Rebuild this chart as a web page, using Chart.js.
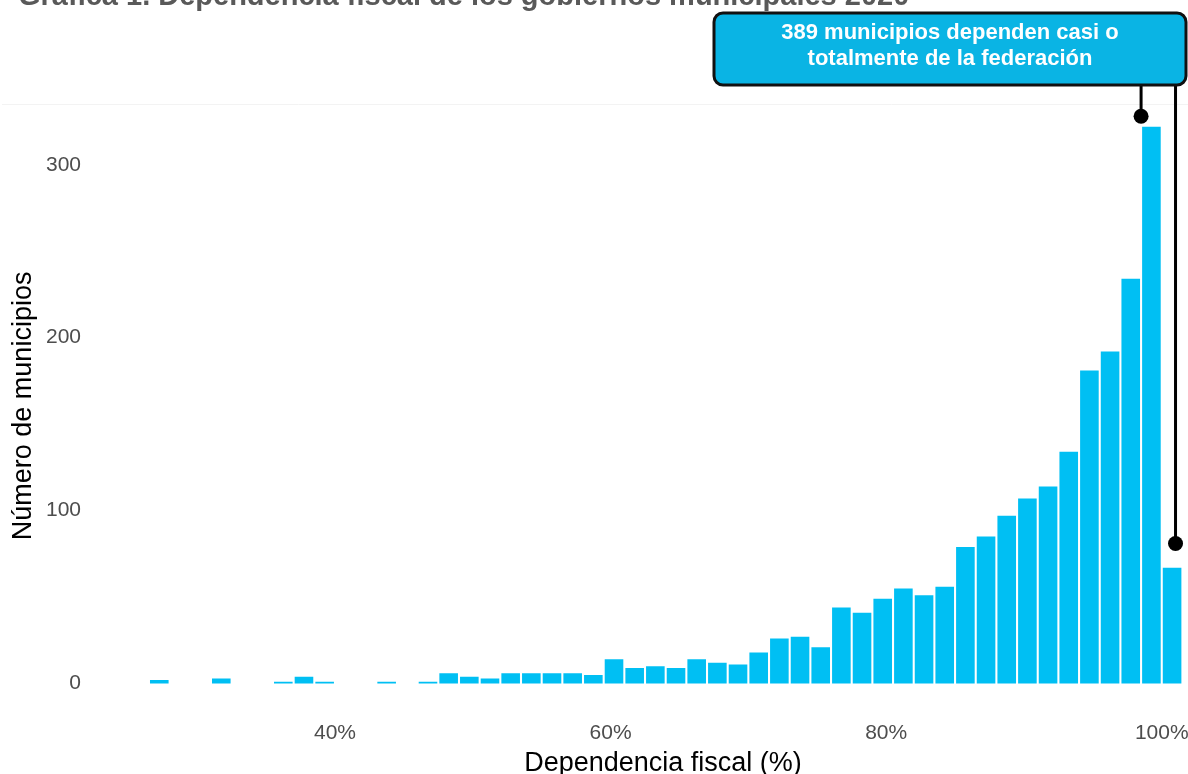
<!DOCTYPE html>
<html>
<head>
<meta charset="utf-8">
<script src="https://cdn.jsdelivr.net/npm/chart.js@4.4.1/dist/chart.umd.min.js"></script>
<style>
  html, body { margin: 0; padding: 0; background: #fff; }
  canvas { display: block; }
</style>
</head>
<body>
<canvas id="histChart" width="1188" height="774"></canvas>
<script>
// histogram bins (left edge, % of income from federal transfers) and municipality counts
const binStart = [26.5, 31, 35.5, 37, 38.5, 43, 46,
  47.5, 49, 50.5, 52, 53.5, 55, 56.5, 58, 59.5, 61, 62.5, 64, 65.5, 67, 68.5, 70,
  71.5, 73, 74.5, 76, 77.5, 79, 80.5, 82, 83.5, 85, 86.5, 88, 89.5, 91, 92.5, 94,
  95.5, 97, 98.5, 100];
const municipios = [2, 3, 1, 4, 1, 1, 1,
  6, 4, 3, 6, 6, 6, 6, 5, 14, 9, 10, 9, 14, 12, 11, 18,
  26, 27, 21, 44, 41, 49, 55, 51, 56, 79, 85, 97, 107, 114, 134, 181,
  192, 234, 322, 67];
const binWidth = 1.5;

const xTicks = [40, 60, 80, 100];
const yTicks = [0, 100, 200, 300];

const titleText = 'Gráfica 1. Dependencia fiscal de los gobiernos municipales 2020';
const calloutLines = ['389 municipios dependen casi o', 'totalmente de la federación'];
// where the two leader lines end: [x in %, y in municipios]
const calloutTargets = [[98.5, 328], [101, 81]];

const barColor = '#00bff3';
const font = '"Liberation Sans", Arial, sans-serif';

const points = binStart.map((b, i) => ({ x: b + binWidth / 2, y: municipios[i] }));

const calloutPlugin = {
  id: 'callout',
  afterDraw(chart) {
    const { ctx, scales: { x, y } } = chart;
    ctx.save();

    // title (runs off the top edge)
    ctx.font = 'bold 29px ' + font;
    ctx.fillStyle = '#595959';
    ctx.textAlign = 'left';
    ctx.textBaseline = 'alphabetic';
    ctx.fillText(titleText, 18, 5);

    // faint panel edge
    ctx.strokeStyle = '#f3f3f3';
    ctx.lineWidth = 1;
    ctx.beginPath();
    ctx.moveTo(2, 104.5);
    ctx.lineTo(1188, 104.5);
    ctx.stroke();

    // leader lines and dots
    ctx.strokeStyle = '#000';
    ctx.fillStyle = '#000';
    ctx.lineWidth = 3;
    calloutTargets.forEach(([vx, vy]) => {
      const px = x.getPixelForValue(vx);
      const py = y.getPixelForValue(vy);
      ctx.beginPath();
      ctx.moveTo(px, 60);
      ctx.lineTo(px, py);
      ctx.stroke();
      ctx.beginPath();
      ctx.arc(px, py, 7.5, 0, Math.PI * 2);
      ctx.fill();
    });

    // label box
    ctx.beginPath();
    ctx.roundRect(714, 13, 472, 72, 9);
    ctx.fillStyle = '#0ab4e4';
    ctx.fill();
    ctx.lineWidth = 3;
    ctx.strokeStyle = '#111';
    ctx.stroke();

    ctx.fillStyle = '#fff';
    ctx.font = 'bold 22px ' + font;
    ctx.textAlign = 'center';
    ctx.textBaseline = 'middle';
    ctx.fillText(calloutLines[0], 950, 33);
    ctx.fillText(calloutLines[1], 950, 59);

    ctx.restore();
  }
};

new Chart(document.getElementById('histChart'), {
  type: 'bar',
  data: {
    datasets: [{
      data: points,
      backgroundColor: barColor,
      borderWidth: 0,
      barPercentage: 0.9,
      categoryPercentage: 1
    }]
  },
  options: {
    responsive: false,
    animation: false,
    layout: { padding: { top: 99, right: 2, left: 0, bottom: 0 } },
    plugins: { legend: { display: false }, tooltip: { enabled: false } },
    scales: {
      x: {
        type: 'linear',
        offset: false,
        min: 25.85,
        max: 101.76,
        grid: { display: false, drawTicks: false },
        border: { display: false },
        afterBuildTicks: s => { s.ticks = xTicks.map(v => ({ value: v })); },
        afterFit: s => {
          s.height = 61.2;
          s.paddingLeft = 0;
          s.paddingRight = 0;
        },
        ticks: {
          padding: 8,
          color: '#4d4d4d',
          font: { family: font, size: 21 },
          callback: v => v + '%'
        },
        title: {
          display: true,
          text: 'Dependencia fiscal (%)',
          color: '#000',
          font: { family: font, size: 27, lineHeight: 1 },
          padding: { top: 0, bottom: -3 }
        }
      },
      y: {
        min: -16.9,
        max: 338,
        grid: { display: false, drawTicks: false },
        border: { display: false },
        afterBuildTicks: s => { s.ticks = yTicks.map(v => ({ value: v })); },
        afterFit: s => {
          // labels sit far from the panel; keep that gap out of the layout padding
          s.width = 140;
          s.paddingTop = 0;
          s.paddingBottom = 0;
        },
        ticks: {
          padding: 59,
          color: '#4d4d4d',
          font: { family: font, size: 21 }
        },
        title: {
          display: true,
          text: 'Número de municipios',
          color: '#000',
          font: { family: font, size: 27, lineHeight: 1 },
          padding: { top: 10.5, bottom: 0 }
        }
      }
    }
  },
  plugins: [calloutPlugin]
});
</script>
</body>
</html>
